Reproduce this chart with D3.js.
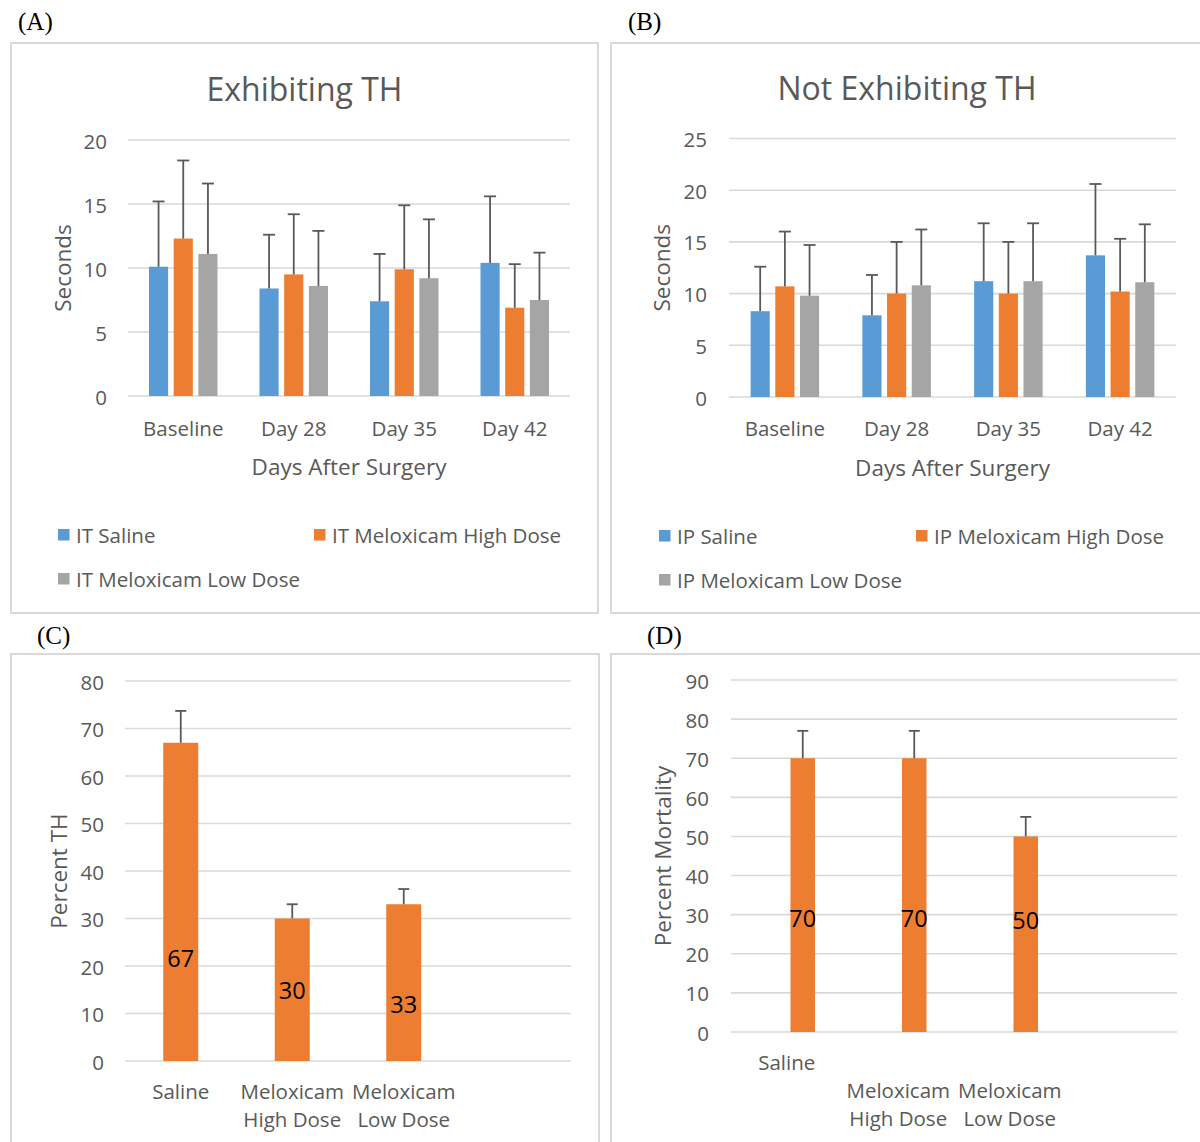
<!DOCTYPE html>
<html>
<head>
<meta charset="utf-8">
<script src="https://cdn.jsdelivr.net/npm/d3@7"></script>
<style>
  html, body { margin: 0; padding: 0; background: #fff; }
  svg { display: block; }
  text { font-family: "Open Sans", sans-serif; fill: #595959; }
  .panel-tag { font-family: "Liberation Serif", "Times New Roman", serif; fill: #000; font-size: 25px; }
</style>
</head>
<body>
<svg id="fig" width="1200" height="1142"></svg>
<script>
// ---- Data ----
const days = ["Baseline", "Day 28", "Day 35", "Day 42"];

// (A) Exhibiting TH — mean seconds and +SD
const itSeries = ["IT Saline", "IT Meloxicam High Dose", "IT Meloxicam Low Dose"];
const itSaline     = [10.1, 8.4, 7.4, 10.4];
const itSalineErr  = [5.1, 4.2, 3.7, 5.2];
const itHigh       = [12.3, 9.5, 9.9, 6.9];
const itHighErr    = [6.1, 4.7, 5.0, 3.4];
const itLow        = [11.1, 8.6, 9.2, 7.5];
const itLowErr     = [5.5, 4.3, 4.6, 3.7];
const ticksA = [0, 5, 10, 15, 20];

// (B) Not Exhibiting TH — mean seconds and +SD
const ipSeries = ["IP Saline", "IP Meloxicam High Dose", "IP Meloxicam Low Dose"];
const ipSaline     = [8.3, 7.9, 11.2, 13.7];
const ipSalineErr  = [4.3, 3.9, 5.6, 6.9];
const ipHigh       = [10.7, 10.0, 10.0, 10.2];
const ipHighErr    = [5.3, 5.0, 5.0, 5.1];
const ipLow        = [9.8, 10.8, 11.2, 11.1];
const ipLowErr     = [4.9, 5.4, 5.6, 5.6];
const ticksB = [0, 5, 10, 15, 20, 25];

// (C) Percent TH
const treatments = ["Saline", "Meloxicam High Dose", "Meloxicam Low Dose"];
const pctTH      = [67, 30, 33];
const pctTHErr   = [6.7, 3, 3.2];
const pctTHLabelAt = [21.7, 14.9, 12.0];   // where each value label sits, in axis units
const ticksC = [0, 10, 20, 30, 40, 50, 60, 70, 80];

// (D) Percent Mortality
const mortality    = [70, 70, 50];
const mortalityErr = [7, 7, 5];
const mortalityLabelAt = [29.2, 29.2, 28.6];
const ticksD = [0, 10, 20, 30, 40, 50, 60, 70, 80, 90];

// ---- Styles ----
const colors = ["#5B9BD5", "#ED7D31", "#A5A5A5"];
const gridColor = "#D9D9D9";
const errColor = "#595959";
const tickFont = 20.5, titleFont = 22.5, legendFont = 20.5;

const svg = d3.select("#fig");

function frame(x0, y0, x1, y1, tag, tx, ty) {
  svg.append("rect")
    .attr("x", x0).attr("y", y0).attr("width", x1 - x0).attr("height", y1 - y0)
    .attr("fill", "none").attr("stroke", "#D9D9D9").attr("stroke-width", 2);
  svg.append("text").attr("class", "panel-tag")
    .attr("x", tx).attr("y", ty).attr("dominant-baseline", "central").text(tag);
}

function yAxis(g, y, ticks, x0, x1, labelX) {
  const grid = g.append("g");
  grid.selectAll("line").data(ticks).join("line")
    .attr("x1", x0).attr("x2", x1)
    .attr("y1", d => y(d)).attr("y2", d => y(d))
    .attr("stroke", gridColor).attr("stroke-width", 1.6);
  const axis = d3.axisLeft(y).tickValues(ticks).tickSize(0).tickPadding(0);
  const ga = g.append("g").attr("transform", `translate(${labelX},0)`).call(axis);
  ga.select(".domain").remove();
  ga.selectAll("text")
    .attr("font-family", "Open Sans, sans-serif")
    .attr("font-size", tickFont).attr("fill", "#595959")
    .attr("dy", null).attr("dominant-baseline", "central");
}

function rotTitle(g, text, x, y) {
  g.append("text")
    .attr("transform", `translate(${x},${y}) rotate(-90)`)
    .attr("text-anchor", "middle").attr("dominant-baseline", "central")
    .attr("font-size", titleFont).text(text);
}

function errorBars(g, items) {
  // items: {x, y0, y1, cap}
  const eg = g.append("g");
  eg.selectAll("line.v").data(items).join("line").attr("class", "v")
    .attr("x1", d => d.x).attr("x2", d => d.x)
    .attr("y1", d => d.y0).attr("y2", d => d.y1)
    .attr("stroke", errColor).attr("stroke-width", 1.8);
  eg.selectAll("line.c").data(items).join("line").attr("class", "c")
    .attr("x1", d => d.x - d.cap / 2).attr("x2", d => d.x + d.cap / 2)
    .attr("y1", d => d.y1).attr("y2", d => d.y1)
    .attr("stroke", errColor).attr("stroke-width", 1.8);
}

// Grouped bar panel with three series over the four time points
function groupedPanel(o) {
  const g = svg.append("g");
  const y = d3.scaleLinear().domain(o.domain).range(o.yRange);
  const x0 = d3.scaleBand().domain(days).range(o.xRange).padding(0);
  const groupW = 68.5;
  const x1 = d3.scaleBand().domain(o.series).range([-groupW / 2, groupW / 2]).paddingInner(0.225);

  g.append("text").attr("x", o.titleX).attr("y", o.titleY)
    .attr("text-anchor", "middle").attr("dominant-baseline", "central")
    .attr("font-size", 32).text(o.title);

  yAxis(g, y, o.ticks, o.xRange[0], o.xRange[1], o.tickX);

  const rows = [];
  o.series.forEach((s, si) => {
    days.forEach((d, di) => {
      rows.push({ s, si, d, v: o.values[si][di], e: o.errs[si][di] });
    });
  });

  g.append("g").selectAll("rect").data(rows).join("rect")
    .attr("x", r => x0(r.d) + x0.bandwidth() / 2 + x1(r.s))
    .attr("width", x1.bandwidth())
    .attr("y", r => y(r.v))
    .attr("height", r => y(0) - y(r.v))
    .attr("fill", r => colors[r.si]);

  errorBars(g, rows.map(r => ({
    x: x0(r.d) + x0.bandwidth() / 2 + x1(r.s) + x1.bandwidth() / 2,
    y0: y(r.v), y1: y(r.v + r.e), cap: 12
  })));

  g.append("g").selectAll("text").data(days).join("text")
    .attr("x", d => x0(d) + x0.bandwidth() / 2).attr("y", o.catY)
    .attr("text-anchor", "middle").attr("dominant-baseline", "central")
    .attr("font-size", tickFont).text(d => d);

  g.append("text").attr("x", (o.xRange[0] + o.xRange[1]) / 2).attr("y", o.xTitleY)
    .attr("text-anchor", "middle").attr("dominant-baseline", "central")
    .attr("font-size", titleFont).text("Days After Surgery");

  rotTitle(g, "Seconds", o.yTitleX, (o.yRange[0] + o.yRange[1]) / 2);

  // legend: two columns, wraps to a second row
  const lg = g.append("g");
  o.series.forEach((s, i) => {
    const lx = o.legendX[i % 2];
    const ly = o.legendY[Math.floor(i / 2)];
    lg.append("rect").attr("x", lx).attr("y", ly - 6).attr("width", 11.5).attr("height", 11.5)
      .attr("fill", colors[i]);
    lg.append("text").attr("x", lx + 18).attr("y", ly)
      .attr("dominant-baseline", "central").attr("font-size", legendFont).text(s);
  });
}

// Single-series percentage panel
function percentPanel(o) {
  const g = svg.append("g");
  const y = d3.scaleLinear().domain(o.domain).range(o.yRange);
  // a fourth, empty category slot keeps the plot area wider than the data
  const x = d3.scaleBand().domain(treatments.concat([" "])).range(o.xRange).padding(0);
  const barW = o.barW;

  yAxis(g, y, o.ticks, o.xRange[0], o.xRange[1], o.tickX);

  const rows = treatments.map((t, i) => ({
    t, v: o.values[i], e: o.errs[i], at: o.labelAt[i],
    cx: x(t) + x.bandwidth() / 2 + o.barShift
  }));

  g.append("g").selectAll("rect").data(rows).join("rect")
    .attr("x", r => r.cx - barW / 2).attr("width", barW)
    .attr("y", r => y(r.v)).attr("height", r => y(0) - y(r.v))
    .attr("fill", colors[1]);

  errorBars(g, rows.map(r => ({ x: r.cx, y0: y(r.v), y1: y(r.v + r.e), cap: 11 })));

  g.append("g").selectAll("text").data(rows).join("text")
    .attr("x", r => r.cx).attr("y", r => y(r.at))
    .attr("text-anchor", "middle").attr("dominant-baseline", "central")
    .attr("font-size", 23.5).style("fill", "#000").text(r => r.v);

  const cg = g.append("g");
  treatments.forEach((t, i) => {
    o.catLines[i].forEach((line, li) => {
      cg.append("text")
        .attr("x", x(t) + x.bandwidth() / 2)
        .attr("y", o.catY + li * 28)
        .attr("text-anchor", "middle").attr("dominant-baseline", "central")
        .attr("font-size", tickFont).text(line);
    });
  });

  rotTitle(g, o.yTitle, o.yTitleX, (o.yRange[0] + o.yRange[1]) / 2);
}

// ---- Frames and panel tags ----
frame(11, 43, 598, 613, "(A)", 18, 21);
frame(611, 43, 1205, 613, "(B)", 628, 21);
frame(11, 654, 599, 1150, "(C)", 37, 635);
frame(611, 654, 1205, 1150, "(D)", 647, 635);

groupedPanel({
  title: "Exhibiting TH", titleX: 304.5, titleY: 88,
  series: itSeries,
  values: [itSaline, itHigh, itLow],
  errs: [itSalineErr, itHighErr, itLowErr],
  domain: [0, 20], yRange: [396, 140], ticks: ticksA,
  xRange: [128, 570], tickX: 107,
  catY: 428, xTitleY: 466, yTitleX: 62,
  legendX: [58, 314], legendY: [535, 579]
});

groupedPanel({
  title: "Not Exhibiting TH", titleX: 907, titleY: 87,
  series: ipSeries,
  values: [ipSaline, ipHigh, ipLow],
  errs: [ipSalineErr, ipHighErr, ipLowErr],
  domain: [0, 25], yRange: [397, 138.5], ticks: ticksB,
  xRange: [729, 1176], tickX: 707,
  catY: 428, xTitleY: 467, yTitleX: 661,
  legendX: [659, 916], legendY: [536, 580]
});

percentPanel({
  values: pctTH, errs: pctTHErr, labelAt: pctTHLabelAt,
  domain: [0, 80], yRange: [1061, 681], ticks: ticksC,
  xRange: [125, 571], tickX: 104, barW: 35, barShift: 0,
  catY: 1091, catLines: [["Saline"], ["Meloxicam", "High Dose"], ["Meloxicam", "Low Dose"]],
  yTitle: "Percent TH", yTitleX: 58
});

percentPanel({
  values: mortality, errs: mortalityErr, labelAt: mortalityLabelAt,
  domain: [0, 90], yRange: [1032, 680], ticks: ticksD,
  xRange: [731, 1177], tickX: 709, barW: 24.5, barShift: 16,
  catY: 1062, catLines: [["Saline"], ["", "Meloxicam", "High Dose"], ["", "Meloxicam", "Low Dose"]],
  yTitle: "Percent Mortality", yTitleX: 662
});
</script>
</body>
</html>
